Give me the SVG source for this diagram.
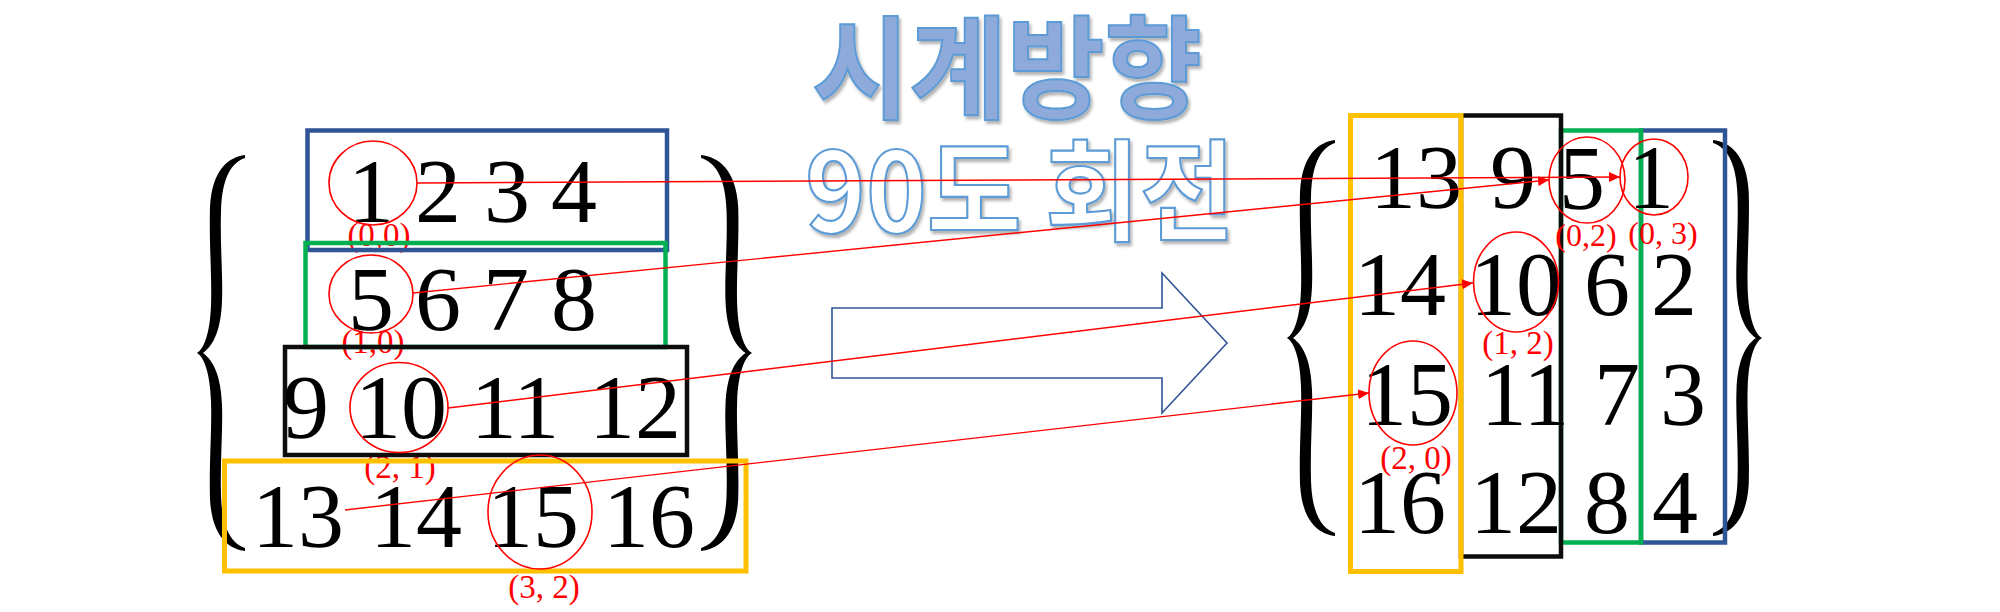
<svg xmlns="http://www.w3.org/2000/svg" xmlns:xlink="http://www.w3.org/1999/xlink" width="2000" height="612" viewBox="0 0 2000 612">
<style>
.num{font-family:"Liberation Serif","DejaVu Serif",serif;font-size:92px;fill:#000;text-anchor:middle}
.lbl{font-family:"Liberation Serif","DejaVu Serif",serif;font-size:33px;fill:#FF0000;text-anchor:middle}
.circ{fill:none;stroke:#FF0000;stroke-width:1.6}
.box{fill:none;stroke-width:4.5}
.blue{stroke:#2F5597}
.green{stroke:#00B050}
.black{stroke:#0D0D0D}
.yellow{stroke:#FFC000;stroke-width:5}
.conn{stroke:#FF0000;stroke-width:1.4;fill:none;marker-end:url(#ah)}
.title1{font-family:"Noto Sans CJK KR","Noto Sans",sans-serif;font-weight:700;font-size:112px;fill:#8EAADB;stroke:#5B9BD5;stroke-width:2}
.title2{font-family:"Noto Sans CJK KR","Noto Sans",sans-serif;font-weight:700;font-size:110px;fill:#FFFFFF;stroke:#5B9BD5;stroke-width:2.2}
</style>
<defs>
<marker id="ah" markerUnits="userSpaceOnUse" markerWidth="12" markerHeight="10" refX="11" refY="5" orient="auto">
<path d="M0,0 L11,5 L0,10 Z" fill="#FF0000"/>
</marker>
<filter id="sh" x="-5%" y="-10%" width="115%" height="130%">
<feDropShadow dx="2" dy="3" stdDeviation="1.5" flood-color="#000" flood-opacity="0.3"/>
</filter>
<path id="brace" d="M48,0 C32,2 15,14 13,52 C12,90 15,120 14,150 C13,178 7,194 0,198 C7,202 13,218 14,246 C15,276 12,306 13,344 C15,382 32,394 48,396 L48,393 C36,389 25,376 24,340 C23,306 26,276 25,250 C24,222 17,206 6,198 C17,190 24,174 25,146 C26,120 23,90 24,56 C25,20 36,7 48,3 Z" fill="#000"/>
</defs>
<rect width="2000" height="612" fill="#FFFFFF"/>

<g id="title" filter="url(#sh)">
<text class="title1" x="812" y="110" textLength="390" lengthAdjust="spacingAndGlyphs">시계방향</text>
<text class="title2" x="805" y="232" textLength="430" lengthAdjust="spacingAndGlyphs">90도 회전</text>
</g>

<g id="block-arrow">
<polygon points="832,308 1162,308 1162,273 1227,343 1162,413 1162,378 832,378" fill="#FFFFFF" stroke="#2F5597" stroke-width="1.6"/>
</g>

<g id="matrix-left">
<use href="#brace" transform="translate(197,155)"/>
<use href="#brace" transform="translate(752,155) scale(-1.06,1)"/>
<text class="lbl" x="379" y="246">(0,0)</text>
<text class="lbl" x="373" y="353">(1,0)</text>
<text class="lbl" x="400" y="478">(2, 1)</text>
<text class="lbl" x="544" y="598">(3, 2)</text>
<rect class="box blue" x="307.5" y="130.5" width="359.5" height="119.5"/>
<rect class="box green" x="305.5" y="243" width="360" height="104"/>
<rect class="box black" x="285" y="347" width="402" height="108"/>
<rect class="box yellow" x="224.5" y="461" width="521.5" height="110"/>
<text class="num" x="371" y="222">1</text>
<text class="num" x="438" y="222">2</text>
<text class="num" x="507" y="222">3</text>
<text class="num" x="574" y="222">4</text>
<text class="num" x="371" y="330">5</text>
<text class="num" x="438" y="330">6</text>
<text class="num" x="506" y="330">7</text>
<text class="num" x="574" y="330">8</text>
<text class="num" x="306" y="438">9</text>
<text class="num" x="401" y="438">10</text>
<text class="num" x="515" y="438">11</text>
<text class="num" x="635" y="438">12</text>
<text class="num" x="298" y="547">13</text>
<text class="num" x="416" y="547">14</text>
<text class="num" x="533" y="547">15</text>
<text class="num" x="649" y="547">16</text>
<ellipse class="circ" cx="373" cy="183" rx="44" ry="42"/>
<ellipse class="circ" cx="371" cy="294" rx="42" ry="39"/>
<ellipse class="circ" cx="399" cy="407.5" rx="49" ry="45"/>
<ellipse class="circ" cx="540" cy="512" rx="52" ry="57"/>
</g>

<g id="matrix-right">
<use href="#brace" transform="translate(1287,140)"/>
<use href="#brace" transform="translate(1762,140) scale(-1.02,1)"/>
<rect class="box blue" x="1641" y="130.5" width="84" height="412"/>
<rect class="box green" x="1561" y="130.5" width="80" height="412"/>
<rect class="box black" x="1461" y="115.5" width="100" height="441"/>
<rect class="box yellow" x="1350.5" y="115.5" width="110.5" height="456"/>
<text class="num" x="1416" y="208">13</text>
<text class="num" x="1513" y="208">9</text>
<text class="num" x="1582" y="209">5</text>
<text class="num" x="1651" y="208">1</text>
<text class="num" x="1400" y="315">14</text>
<text class="num" x="1516" y="315">10</text>
<text class="num" x="1607" y="315">6</text>
<text class="num" x="1674" y="315">2</text>
<text class="num" x="1407" y="425">15</text>
<text class="num" x="1525" y="425">11</text>
<text class="num" x="1617" y="425">7</text>
<text class="num" x="1683" y="425">3</text>
<text class="num" x="1400" y="533">16</text>
<text class="num" x="1516" y="533">12</text>
<text class="num" x="1607" y="533">8</text>
<text class="num" x="1675" y="533">4</text>
<ellipse class="circ" cx="1587" cy="180" rx="38" ry="43"/>
<ellipse class="circ" cx="1654" cy="177" rx="34" ry="38"/>
<ellipse class="circ" cx="1516" cy="282" rx="42.5" ry="50"/>
<ellipse class="circ" cx="1413" cy="393" rx="44" ry="52"/>
<text class="lbl" x="1586" y="246" style="font-size:32px">(0,2)</text>
<text class="lbl" x="1663" y="244" style="font-size:32px">(0, 3)</text>
<text class="lbl" x="1518" y="354">(1, 2)</text>
<text class="lbl" x="1416" y="469">(2, 0)</text>
</g>

<g id="connectors">
<line class="conn" x1="417" y1="183" x2="1620" y2="177"/>
<line class="conn" x1="413" y1="293" x2="1549" y2="180"/>
<line class="conn" x1="448" y1="408" x2="1473" y2="283"/>
<line class="conn" x1="345" y1="510" x2="1369" y2="393"/>
</g>
</svg>
